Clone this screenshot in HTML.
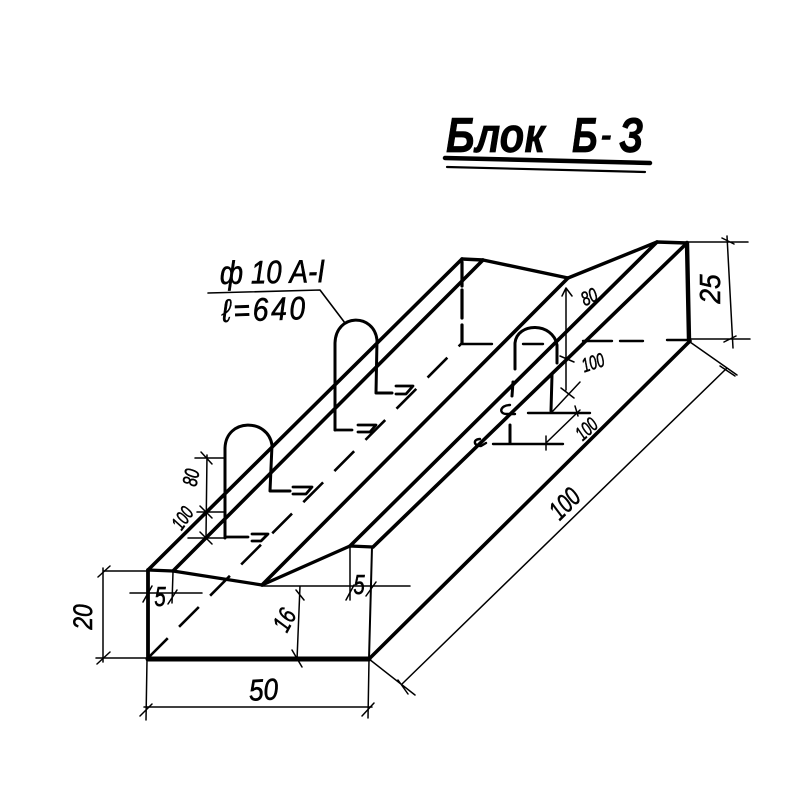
<!DOCTYPE html>
<html><head><meta charset="utf-8"><style>
html,body{margin:0;padding:0;background:#fff}
svg{display:block}
text{font-family:"Liberation Sans",sans-serif;font-style:italic;fill:#000}
</style></head><body>
<svg width="800" height="800" viewBox="0 0 800 800" xmlns="http://www.w3.org/2000/svg">
<rect width="800" height="800" fill="#fff"/>
<g fill="none" stroke="#000" stroke-linecap="round" stroke-linejoin="round">
<!-- title rules -->
<path d="M445 158L650 163" stroke-width="4.5"/>
<path d="M447 167L645 172" stroke-width="2.2"/>
<!-- main outline -->
<path d="M148 570L462 259M173 571L483 260M262 585L568 278M350 546L657 242M373 547L687 243M369 659L690 341" stroke-width="3.6"/>
<path d="M148 570L173 571L262 585L350 546L373 547" stroke-width="3.2"/>
<path d="M462 259L483 260L568 278L657 242L687 243" stroke-width="3.4"/>
<path d="M148 570L148 658" stroke-width="3.8"/>
<path d="M148 659L369 659" stroke-width="5"/>
<path d="M372 547L369 659" stroke-width="2"/>
<path d="M687 243L689 340" stroke-width="4.4"/>
<!-- hidden lines -->
<path d="M148 658L462 343" stroke-width="2.6" stroke-dasharray="28 16" stroke-linecap="butt"/>
<path d="M462 262V286M462 290V318M462 325V343" stroke-width="3.2"/>
<path d="M462 344H492M523 344H543M583 341H612M620 341H643M667 340H690" stroke-width="2.4"/>
<!-- stirrup 1 -->
<path d="M225 538V448C226 418 268 418 272 445L270 491H290" stroke-width="3"/>
<path d="M225 537H248M252 534H268L261 541H252M293 487H312L306 494H293" stroke-width="2.8"/>
<!-- stirrup 2 -->
<path d="M335 430V343C336 313 374 313 377 340L376 393H392" stroke-width="3"/>
<path d="M335 430H352M358 425H376L370 432H358M396 386H413L406 394H396" stroke-width="2.8"/>
<!-- stirrup 3 (hidden) -->
<path d="M515 369V343C517 322 553 322 557 345V363" stroke-width="3"/>
<path d="M513 382L512 396M510 425V443M552 375L551 411" stroke-width="3"/>
<path d="M493 444H563M528 413H590" stroke-width="2.4"/>
<path d="M510 405C500 405 498 414 507 414L515 414M480 439C473 439 473 446 481 446L486 443" stroke-width="2.4"/>
<!-- leader -->
<path d="M208 293L320 290L345 323" stroke-width="1.6"/>
<!-- dimensions -->
<g stroke-width="1.5">
<path d="M104 571H148M96 658H148M103 568L103 662"/>
<path d="M147 660L146 720M369 660L368 718M144 707H372"/>
<path d="M140 716L152 704M362 716L374 703M98 577L110 566M97 664L110 652"/>
<path d="M130 593H202M173 572L172 603M350 547L350 600M262 586L410 586M300 586L297 660"/>
<path d="M143 602L152 586M168 604L177 590M346 600L354 585M366 596L376 582"/>
<path d="M292 650L302 667M296 590L304 600"/>
<path d="M369 659L415 695M402 684L727 368M690 342L737 375M398 680L408 694M720 366L735 376"/>
<path d="M687 242H748M690 339H750M727 236L733 348M722 238L734 244M724 342L736 336"/>
<path d="M195 458H225M197 512H225M188 538H225M207 455L206 537M201 452L212 464M200 506L212 518M200 532L212 544"/>
<path d="M566 288V390M566 288L562 296M566 288L572 296M560 356L574 362M561 388L574 398M552 412L580 382"/>
<path d="M547 442L580 410M575 406L578 416M546 436L546 450"/>
</g>
</g>
<!-- labels -->
<g stroke="#000" stroke-width=".5">
<text transform="translate(446 152) scale(.95 1.3)" font-size="38" font-weight="700" textLength="104" lengthAdjust="spacingAndGlyphs">Блок</text>
<text transform="translate(572 152) scale(.95 1.3)" font-size="38" font-weight="700">Б</text>
<text transform="translate(601 146)" font-size="32" font-weight="700">-</text>
<text transform="translate(619 152) scale(1 1.3)" font-size="38" font-weight="700">З</text>
<text transform="translate(220 284) rotate(-1) scale(1.03 1.2)" font-size="27">ф 10 А-I</text>
<text transform="translate(222 322) rotate(-2) scale(1.05 1.2)" font-size="27" letter-spacing="2.5">ℓ=640</text>
<text transform="translate(264 700) rotate(-3) scale(1.05 1.2)" font-size="25" text-anchor="middle">50</text>
<text transform="translate(160 606) scale(.85 1.15)" font-size="24" text-anchor="middle">5</text>
<text transform="translate(359 594) scale(.85 1.15)" font-size="24" text-anchor="middle">5</text>
<text transform="translate(92 617) rotate(-90) scale(.95 1.1)" font-size="24" text-anchor="middle">20</text>
<text transform="translate(292 624) rotate(-62) scale(.85 1.1)" font-size="23" text-anchor="middle">16</text>
<text transform="translate(720 289) rotate(-90) scale(1.05 1.15)" font-size="25" text-anchor="middle">25</text>
<text transform="translate(571 510) rotate(-45) scale(.8 1.1)" font-size="24" text-anchor="middle">100</text>
<text transform="translate(198 479) rotate(-78) scale(.8 1.1)" font-size="19" text-anchor="middle">80</text>
<text transform="translate(188 522) rotate(-55) scale(.75 1.1)" font-size="18" text-anchor="middle">100</text>
<text transform="translate(592 303) rotate(-25) scale(.8 1.1)" font-size="18" text-anchor="middle">80</text>
<text transform="translate(595 369) rotate(-18) scale(.75 1.1)" font-size="18" text-anchor="middle">100</text>
<text transform="translate(591 434) rotate(-42) scale(.75 1.1)" font-size="18" text-anchor="middle">100</text>
</g>
</svg>
</body></html>
